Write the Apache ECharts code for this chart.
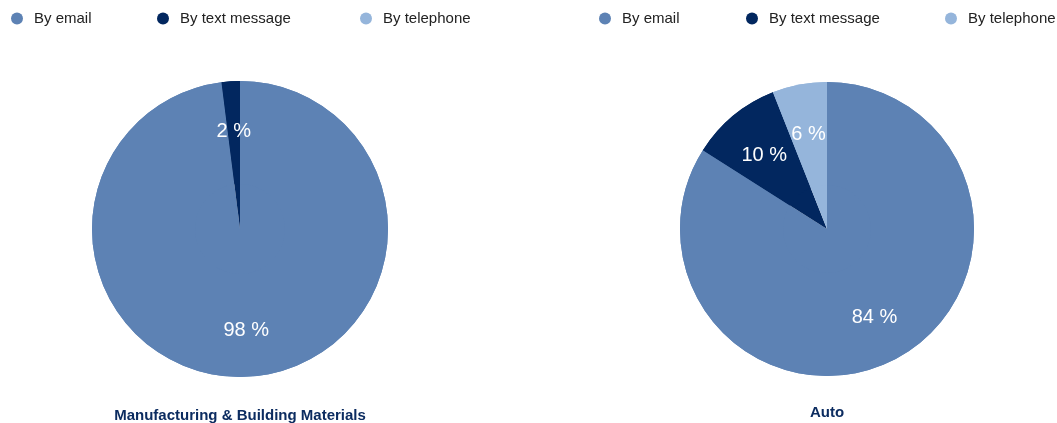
<!DOCTYPE html>
<html>
<head>
<meta charset="utf-8">
<style>
  html, body { margin: 0; padding: 0; background: #ffffff; }
  #chart { width: 1057px; height: 423px; }
</style>
<script src="https://cdn.jsdelivr.net/npm/echarts@6/dist/echarts.min.js"></script>
</head>
<body>
<div id="chart"></div>
<script>
// Contact channels and their colours
const channels = ['By email', 'By text message', 'By telephone'];
const channelColors = ['#5d82b4', '#02275f', '#95b5db'];

// Share of responses per channel (%)
const manufacturingValues = [98, 2, 0];
const autoValues = [84, 10, 6];

const sectorTitles = ['Manufacturing & Building Materials', 'Auto'];

const chart = echarts.init(document.getElementById('chart'), null, { renderer: 'canvas' });

const FONT = 'Liberation Sans, Arial, Helvetica, sans-serif';

function toData(values) {
  return channels.map((name, i) => ({
    name: name,
    value: values[i],
    itemStyle: { color: channelColors[i] }
  }));
}

// Full pie (the coloured sectors)
function pieSeries(values, center, r) {
  return {
    type: 'pie',
    center: center,
    radius: [0, r],
    startAngle: 90,
    clockwise: true,
    silent: true,
    label: { show: false },
    labelLine: { show: false },
    itemStyle: { borderWidth: 0 },
    emphasis: { disabled: true },
    animation: false,
    data: toData(values)
  };
}

// Transparent ring carrying the percentage labels at about two thirds of the radius
function labelSeries(values, center, r) {
  return {
    type: 'pie',
    center: center,
    radius: [r - 103, r],
    startAngle: 90,
    clockwise: true,
    silent: true,
    itemStyle: { color: 'rgba(0,0,0,0)', borderWidth: 0 },
    emphasis: { disabled: true },
    animation: false,
    label: {
      show: true,
      position: 'inside',
      color: '#ffffff',
      fontFamily: FONT,
      fontSize: 20,
      offset: [0, 2],
      formatter: p => (p.value > 0 ? p.value + ' %' : '')
    },
    labelLine: { show: false },
    data: toData(values)
  };
}

// One legend entry per component so that each item sits at a fixed place
function legendItem(name, left) {
  return {
    data: [name],
    left: left,
    top: 6,
    padding: 5,
    orient: 'horizontal',
    icon: 'circle',
    itemWidth: 12,
    itemHeight: 12,
    selectedMode: false,
    textStyle: {
      color: '#222222',
      fontFamily: FONT,
      fontSize: 15,
      padding: [0, 0, 0, 6]
    }
  };
}

const leftCenter = [240, 229];
const rightCenter = [827, 229];

const option = {
  backgroundColor: '#ffffff',
  animation: false,
  legend: [
    legendItem(channels[0], 6),
    legendItem(channels[1], 152),
    legendItem(channels[2], 355),
    legendItem(channels[0], 594),
    legendItem(channels[1], 741),
    legendItem(channels[2], 940)
  ],
  title: [
    {
      text: sectorTitles[0],
      left: 235,
      top: 403,
      textAlign: 'center',
      textStyle: { color: '#0c2c60', fontFamily: FONT, fontSize: 15, fontWeight: 'bold' }
    },
    {
      text: sectorTitles[1],
      left: 822,
      top: 400,
      textAlign: 'center',
      textStyle: { color: '#0c2c60', fontFamily: FONT, fontSize: 15, fontWeight: 'bold' }
    }
  ],
  series: [
    pieSeries(manufacturingValues, leftCenter, 148),
    labelSeries(manufacturingValues, leftCenter, 148),
    pieSeries(autoValues, rightCenter, 147),
    labelSeries(autoValues, rightCenter, 147)
  ]
};

chart.setOption(option);
</script>
</body>
</html>
